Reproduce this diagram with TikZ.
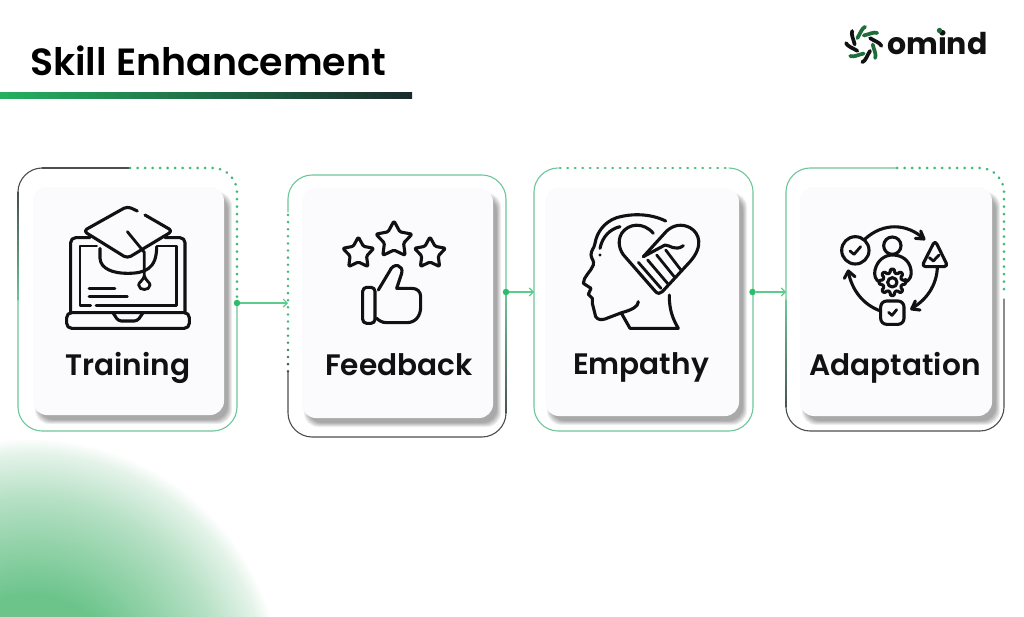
\documentclass[tikz,border=0pt]{standalone}
\usepackage{fontspec}
\setmainfont{Poppins}[BoldFont={Poppins SemiBold}]
\newfontfamily\logofont{Poppins Bold}
\usetikzlibrary{calc,arrows.meta}
\definecolor{blobg}{HTML}{6CC48B}
\definecolor{blobm}{HTML}{B5E0C4}
\definecolor{blobl}{HTML}{E4F3E9}
\definecolor{frameg}{HTML}{6CC79A}
\definecolor{framed}{HTML}{4A4F4E}
\definecolor{dotg}{HTML}{3FB97A}
\definecolor{arrg}{HTML}{5CCB8C}
\definecolor{nodeg}{HTML}{2DBB6C}
\definecolor{cardf}{HTML}{FBFAFD}
\definecolor{ink}{HTML}{111111}
\definecolor{barl}{HTML}{25B060}
\definecolor{barr}{HTML}{1A2A2C}
\definecolor{logog}{HTML}{1F6B3A}
\pgfdeclareradialshading{blob}{\pgfpoint{0bp}{0bp}}{color(0bp)=(blobg); color(9.5bp)=(blobg); color(19bp)=(blobm); color(23.5bp)=(blobl); color(25bp)=(white); color(50bp)=(white)}
\tikzset{
  frameline/.style={line width=1.1pt,line cap=round},
  icon/.style={draw=ink,line width=3.1pt,line cap=round,line join=round},
  iconthin/.style={draw=ink,line width=2.8pt,line cap=round,line join=round},
  cardbox/.style={fill=cardf,rounded corners=14pt,inner sep=0pt},
  lab/.style={font=\bfseries\fontsize{29.6}{31}\selectfont,text=ink,anchor=base,inner sep=0pt},
  dotnode/.style={circle,fill=nodeg,inner sep=0pt,minimum size=6.5pt},
  conn/.style={draw=arrg,line width=1.3pt,-{Straight Barb[length=4pt,width=8pt,line width=1.1pt]}},
  gdot/.style={line width=2.6pt,line cap=round,dash pattern=on 0.4pt off 7.1pt,draw=dotg},
}
% gradient straight line
\newcommand\gline[6]{\foreach \i in {0,...,19}{%
  \pgfmathsetmacro\aa{\i/20}\pgfmathsetmacro\bb{(\i+1)/20}\pgfmathsetmacro\pp{100-\i*5}%
  \draw[frameline,draw=#5!\pp!#6] ({#1+(#3-#1)*\aa},{#2+(#4-#2)*\aa}) -- ({#1+(#3-#1)*\bb},{#2+(#4-#2)*\bb});}}
% card with soft shadow
\newcommand\card[5]{%
  \foreach \k in {0,...,6}{%
    \fill[black,opacity=.055,rounded corners=14pt] ({#2+2+\k*.7},{#3+5+\k*.7}) rectangle ({#4+8-\k*.7},{#5+9-\k*.7});}
  \pgfmathsetmacro\cw{#4-#2}\pgfmathsetmacro\ch{#5-#3}%
  \node[cardbox,minimum width=\cw pt,minimum height=\ch pt] (#1) at ({(#2+#4)/2},{(#3+#5)/2}) {};}
\newcommand\rstar[3]{%
  \draw[icon,rounded corners=1.3pt] ([shift={(#1,#2)}]-90:#3)
  \foreach \k [evaluate=\k as \an using -90+36*\k, evaluate=\k as \rr using {mod(\k,2)==1 ? #3*.53 : #3}] in {1,...,9} { -- ([shift={(#1,#2)}]\an:\rr) } -- cycle;}
\begin{document}
\begin{tikzpicture}[x=1pt,y=-1pt]
\useasboundingbox (0,0) rectangle (1024,616);
\fill[white] (0,0) rectangle (1024,616);
% background blob
\begin{scope}
  \clip (0,0) rectangle (1024,616);
  \shade[shading=blob] (30,690) circle [radius=252];
\end{scope}
% header
\node[font=\bfseries\fontsize{37.9}{40}\selectfont,text=black,anchor=base west,inner sep=0pt] (title) at (30,75) {Skill Enhancement};
\shade[left color=barl,right color=barr] (0,92) rectangle (412,98);
% logo
\begin{scope}[shift={(863.7,44.5)}]
  \foreach \a/\c in {0/logog,45/ink,90/logog,135/logog,180/ink,225/ink,270/logog,315/ink}{
    \draw[\c,line width=3.7pt,line cap=round,rotate=\a] (9,0) .. controls (10,5) and (13,10) .. (11.5,13.5);}
\end{scope}
\node[font=\logofont\fontsize{30}{32}\selectfont,text=ink,anchor=base west,inner sep=0pt] (logotext) at (887,54) {omind};
\fill[logog] (939.5,30.5) circle [radius=2.7];
% frame 1
\gline{130}{168}{42}{168}{framed}{framed}
\draw[frameline,draw=framed] (42,168) .. controls (29,168) and (18,179) .. (18,192);
\gline{18}{192}{18}{300}{framed}{frameg}
\draw[frameline,draw=frameg] (18,300) -- (18,407) .. controls (18,420) and (29,431) .. (42,431) -- (213,431) .. controls (226,431) and (237,420) .. (237,407) -- (237,303);
\draw[gdot] (130,168) -- (213,168) .. controls (226,168) and (237,179) .. (237,192) -- (237,303);
% frame 2
\draw[frameline,draw=frameg] (288,212) -- (288,199) .. controls (288,186) and (299,175) .. (312,175) -- (482,175) .. controls (495,175) and (506,186) .. (506,199) -- (506,292);
\gline{506}{292}{506}{413}{frameg}{framed}
\draw[frameline,draw=framed] (506,413) .. controls (506,426) and (495,437) .. (482,437) -- (312,437) .. controls (299,437) and (288,426) .. (288,413) -- (288,372);
\foreach \yy [evaluate=\yy as \mx using {\yy<330?100:max(0,100-(\yy-330)*2.6)}] in {215,222.1,...,372}{
  \fill[dotg!\mx!framed] (288,\yy) circle [radius=1.4];}
% frame 3
\draw[frameline,draw=frameg] (558,168) .. controls (545,168) and (534,179) .. (534,192) -- (534,407) .. controls (534,420) and (545,431) .. (558,431) -- (729,431) .. controls (742,431) and (753,420) .. (753,407) -- (753,192) .. controls (753,179) and (742,168) .. (729,168);
\draw[gdot] (560,168) -- (729,168);
% frame 4
\draw[frameline,draw=frameg] (897,168) -- (810,168) .. controls (797,168) and (786,179) .. (786,192) -- (786,300);
\gline{786}{300}{786}{407}{frameg}{framed}
\draw[frameline,draw=framed] (786,407) .. controls (786,420) and (797,431) .. (810,431) -- (980,431) .. controls (993,431) and (1004,420) .. (1004,407) -- (1004,299);
\draw[gdot] (897,168) -- (980,168) .. controls (993,168) and (1004,179) .. (1004,192) -- (1004,296);
% cards
\card{c1}{33}{187}{224}{415}
\card{c2}{302}{188}{493}{418}
\card{c3}{545}{188}{739}{416}
\card{c4}{800}{187}{992}{416}
% connectors
\node[dotnode] (d1) at (237,303) {};
\node[dotnode] (d2) at (506,292) {};
\node[dotnode] (d3) at (752.5,292) {};
\coordinate (t1) at (288,303);
\coordinate (t2) at (534,292);
\coordinate (t3) at (786,292);
\draw[conn] (d1) -- (t1);
\draw[conn] (d2) -- (t2);
\draw[conn] (d3) -- (t3);
% labels
\node[lab] (l1) at (128,375) {Training};
\node[lab] (l2) at (399,375) {Feedback};
\node[lab] (l3) at (641,374) {Empathy};
\node[lab] (l4) at (895,375) {Adaptation};
% icon 1: laptop and cap
\begin{scope}[shift={(50,195)},scale=1/3]
  \draw[icon,rounded corners=5pt] (50,353) -- (418,353) -- (418,400) -- (50,400) -- cycle;
  \draw[icon,rounded corners=3pt] (190,355) -- (205,378) -- (262,378) -- (278,355);
  \draw[icon,rounded corners=5pt] (62,353) -- (62,128) -- (120,128);
  \draw[icon,rounded corners=5pt] (405,353) -- (405,128) -- (345,128);
  \draw[iconthin] (140,153) -- (90,153) -- (90,332) -- (122,332);
  \draw[iconthin] (138,332) -- (380,332) -- (380,153) -- (322,153);
  \draw[iconthin] (117,281) -- (195,281);
  \draw[iconthin] (117,304) -- (232,304);
  \draw[icon,rounded corners=4pt] (262,48) -- (232,34) -- (100,108) -- (232,190) -- (368,108) -- (285,60);
  \draw[icon] (150,160) -- (150,190) .. controls (152,222) and (190,235) .. (232,235) .. controls (285,235) and (320,222) .. (320,155);
  \draw[iconthin] (232,110) -- (283,172) -- (283,245);
  \draw[iconthin] (283,243) .. controls (278,258) and (266,262) .. (266,270) .. controls (266,288) and (300,288) .. (300,270) .. controls (300,262) and (288,258) .. (283,243);
\end{scope}
% icon 2: stars and thumb
\begin{scope}[shift={(330,210)},scale=1/3]
  \rstar{192}{90}{57}
  \rstar{85}{130}{49}
  \rstar{300}{130}{49}
  \draw[icon,rounded corners=4pt] (98,232) rectangle (135,340);
  \draw[icon] (145,240) -- (178,185) .. controls (190,155) and (222,165) .. (215,190) -- (200,235) -- (245,235) .. controls (262,235) and (272,245) .. (272,260) -- (272,290) .. controls (272,320) and (255,338) .. (230,338) -- (170,338) .. controls (155,338) and (145,330) .. (140,325);
\end{scope}
% icon 3: head and heart
\begin{scope}[shift={(575,205)},scale=1/3]
  \draw[icon] (272,48) .. controls (225,25) and (170,25) .. (125,38) .. controls (85,52) and (65,85) .. (60,115) .. controls (58,130) and (48,135) .. (48,150) .. controls (50,165) and (58,165) .. (55,180) .. controls (48,200) and (25,215) .. (25,235) -- (48,250) -- (40,268) -- (52,280) -- (52,295) -- (62,335) .. controls (68,345) and (80,345) .. (90,342) -- (140,323) .. controls (170,315) and (190,305) .. (190,290);
  \draw[icon] (140,326) -- (165,370) -- (310,370) .. controls (295,345) and (282,315) .. (283,270);
  \draw[icon] (135,65) .. controls (105,72) and (82,95) .. (75,130);
  \fill[ink] (75,150) circle [radius=5];
  \draw[icon] (235,85) .. controls (205,50) and (160,55) .. (140,85) .. controls (125,110) and (135,140) .. (150,155) -- (240,258) .. controls (248,268) and (256,266) .. (262,260) -- (345,170) .. controls (385,125) and (375,85) .. (345,68) .. controls (320,55) and (295,60) .. (275,78) -- (205,155);
  \draw[icon] (205,155) -- (270,120) .. controls (285,120) and (300,140) .. (325,122);
  \draw[iconthin] (190,172) -- (258,250);
  \draw[iconthin] (218,165) -- (280,238);
  \draw[iconthin] (245,150) -- (300,218);
  \draw[iconthin] (272,135) -- (320,198);
\end{scope}
% icon 4: adaptation cycle
\begin{scope}[shift={(830,225)},scale=1/3]
  \draw[icon] (76,76) circle [radius=41];
  \draw[iconthin] (60,78) -- (72,88) -- (92,65);
  \draw[icon] (105,42) .. controls (160,-8) and (230,-5) .. (280,40);
  \draw[icon] (256,40) -- (282,42) -- (272,18);
  \draw[icon,rounded corners=4pt] (315,46) -- (275,125) -- (354,125) -- cycle;
  \draw[iconthin] (298,98) -- (310,108) -- (327,90);
  \draw[icon] (322,128) .. controls (320,180) and (290,225) .. (245,250);
  \draw[icon] (270,255) -- (245,252) -- (256,228);
  \draw[icon,rounded corners=6pt] (152,228) rectangle (222,298);
  \draw[iconthin] (176,262) -- (186,271) -- (200,254);
  \draw[icon] (152,258) .. controls (100,240) and (65,195) .. (55,140);
  \draw[icon] (43,160) -- (55,138) -- (75,155);
  \draw[icon] (187,62) circle [radius=26];
  \draw[icon] (150,172) .. controls (135,165) and (132,150) .. (135,135) .. controls (142,105) and (165,90) .. (187,90) .. controls (215,90) and (238,105) .. (243,135) .. controls (246,152) and (240,165) .. (226,172);
  \draw[icon,fill=cardf,rounded corners=1pt] ([shift={(187,172)}]-8:40)
   \foreach \t in {0,45,...,315} { -- ([shift={(187,172)}]\t-8:40) -- ([shift={(187,172)}]\t+8:40) -- ([shift={(187,172)}]\t+14:29) -- ([shift={(187,172)}]\t+31:29) } -- cycle;
  \draw[icon] (187,172) circle [radius=14];
\end{scope}
\end{tikzpicture}
\end{document}
